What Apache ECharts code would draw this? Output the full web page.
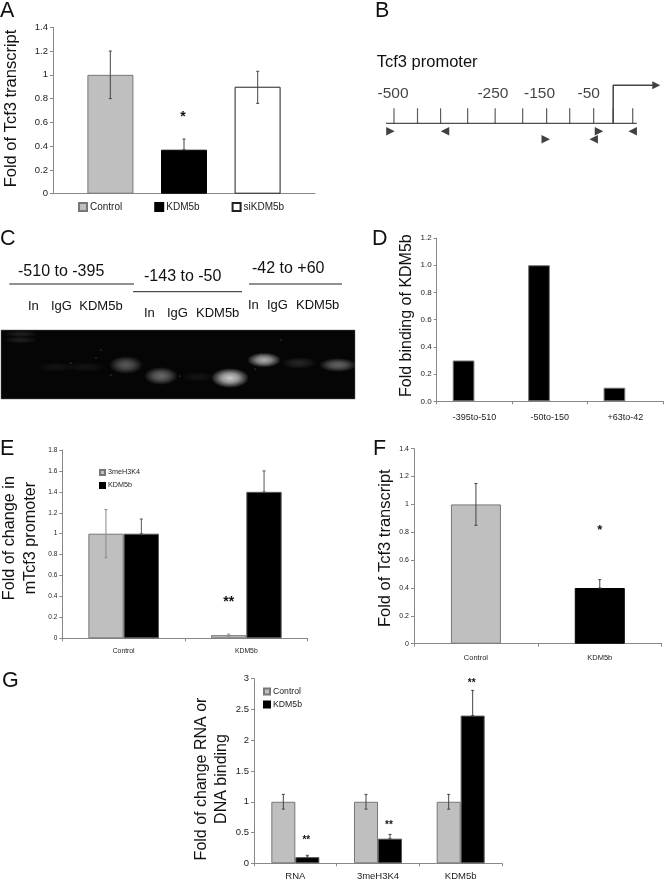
<!DOCTYPE html>
<html>
<head>
<meta charset="utf-8">
<title>Tcf3 KDM5b</title>
<style>
  html, body { margin: 0; padding: 0; background: #fff; }
  #chart { width: 664px; height: 879px; }
</style>
<script src="https://cdn.jsdelivr.net/npm/echarts@6/dist/echarts.min.js"></script>
</head>
<body>
<div id="chart"></div>
<script>
// panel A
const aNames = ['Control', 'KDM5b', 'siKDM5b']
const aValues = [1, 0.37, 0.9]
const aLow = [0.8, 0.37, 0.76]
const aHigh = [1.2, 0.46, 1.03]
// panel B, positions along the promoter in bp
const bTicks = [-500, -447, -395, -334, -272, -210, -156, -104, -50, -6, 38]
const bTickLabels = ['-500', '-250', '-150', '-50']
const bTickLabelPos = [-502, -277, -172, -61]
const bForward = [[-508, -8], [-158, -16], [-38, -8]]
const bReverse = [[-385, -8], [-50, -16], [38, -8]]
const bAxisEnds = [-518, 47]
const bTss = [[-6, 0], [-6, 38], [83, 38]]
// panel C, gel bands
const gelX = [20, 20, 55, 85, 125, 160, 197, 229, 263, 298, 337]
const gelY = [4, 10, 37, 37, 35, 46, 47, 48, 30, 33, 35]
const gelW = [34, 34, 40, 40, 34, 34, 34, 38, 34, 36, 38]
const gelH = [7, 7, 10, 10, 18, 18, 10, 20, 15, 12, 14]
const gelLevel = [0.13, 0.13, 0.07, 0.07, 0.42, 0.5, 0.07, 1, 0.85, 0.16, 0.48]
const gelSpecks = [[100, 20], [95, 28], [70, 33], [110, 45], [179, 46], [260, 25], [254, 39], [280, 10]]
// panel D
const dCats = ['-395to-510', '-50to-150', '+63to-42']
const dValues = [0.3, 1, 0.1]
// panel E
const eCats = ['Control', 'KDM5b']
const eMark = [1, 0.03]
const eMarkLow = [0.77, 0.02]
const eMarkHigh = [1.23, 0.04]
const eKdm = [1, 1.4]
const eKdmLow = [1, 1.4]
const eKdmHigh = [1.14, 1.6]
// panel F
const fCats = ['Control', 'KDM5b']
const fValues = [1, 0.4]
const fLow = [0.85, 0.4]
const fHigh = [1.15, 0.46]
// panel G
const gCats = ['RNA', '3meH3K4', 'KDM5b']
const gControl = [1, 1, 1]
const gControlLow = [0.88, 0.88, 0.88]
const gControlHigh = [1.12, 1.12, 1.12]
const gKdm = [0.1, 0.4, 2.4]
const gKdmLow = [0.1, 0.4, 2.4]
const gKdmHigh = [0.13, 0.47, 2.81]

const FONT = '"Liberation Sans", Arial, sans-serif'
const GREY = '#bfbfbf'
const BLACK = '#000'
const TEXT = '#222'

function xAxis(gridIndex, cats, size, margin, showLabel, showTick) {
  return {
    type: 'category', gridIndex: gridIndex, data: cats,
    axisLine: {lineStyle: {color: '#888', width: 1}},
    axisTick: {show: showTick, length: 3, lineStyle: {color: '#888'}},
    axisLabel: {show: showLabel, fontSize: size, margin: margin, color: TEXT, fontFamily: FONT, interval: 0}
  }
}

// shift moves the rotated name along the axis, positive is up
function yAxis(gridIndex, max, interval, size, name, nameGap, nameSize, fmt, shift) {
  return {
    type: 'value', gridIndex: gridIndex, min: 0, max: max, interval: interval,
    name: name, nameLocation: 'middle', nameGap: nameGap,
    nameTextStyle: {
      fontSize: nameSize, color: '#111', fontFamily: FONT, lineHeight: nameSize * 1.25,
      padding: shift > 0 ? [0, 0, 0, shift * 2] : [0, -shift * 2, 0, 0]
    },
    splitLine: {show: false},
    axisLine: {show: true, lineStyle: {color: '#888', width: 1}},
    axisTick: {show: true, length: 3, lineStyle: {color: '#888'}},
    axisLabel: {fontSize: size, margin: 5, color: TEXT, fontFamily: FONT, formatter: fmt}
  }
}

function bar(gridIndex, name, values, color, border, width, extra) {
  return Object.assign({
    type: 'bar', name: name, xAxisIndex: gridIndex, yAxisIndex: gridIndex, data: values,
    barWidth: width, barGap: 0,
    itemStyle: {color: color, borderColor: border, borderWidth: 1}
  }, extra || {})
}

// error bars, shift is the sideways offset from the category centre in px
function errors(gridIndex, cats, low, high, shift, color) {
  return {
    type: 'custom', xAxisIndex: gridIndex, yAxisIndex: gridIndex, z: 5, silent: true, clip: false,
    data: low.map((v, i) => [cats[i], v, high[i]]),
    encode: {x: 0, y: [1, 2]},
    renderItem: function (params, api) {
      const a = api.coord([api.value(0), api.value(1)])
      const b = api.coord([api.value(0), api.value(2)])
      const x = a[0] + shift
      const style = {stroke: color || '#444', lineWidth: 1, fill: 'none'}
      return {type: 'group', children: [
        {type: 'line', shape: {x1: x, y1: a[1], x2: x, y2: b[1]}, style: style},
        {type: 'line', shape: {x1: x - 1.5, y1: a[1], x2: x + 1.5, y2: a[1]}, style: style},
        {type: 'line', shape: {x1: x - 1.5, y1: b[1], x2: x + 1.5, y2: b[1]}, style: style}
      ]}
    }
  }
}

// significance stars
function stars(gridIndex, text, cats, vals, shift, size) {
  return {
    type: 'custom', xAxisIndex: gridIndex, yAxisIndex: gridIndex, z: 6, silent: true, clip: false,
    data: cats.map((c, i) => [c, vals[i]]),
    encode: {x: 0, y: 1},
    renderItem: function (params, api) {
      const p = api.coord([api.value(0), api.value(1)])
      return {type: 'text', style: {
        text: text, x: p[0] + shift, y: p[1], fill: '#111', align: 'center', verticalAlign: 'middle',
        font: 'bold ' + size + 'px ' + FONT
      }}
    }
  }
}

function label(text, x, y, size, color) {
  return {type: 'text', x: x, y: y, silent: true, style: {
    text: text, fill: color || '#111', font: size + 'px ' + FONT, textVerticalAlign: 'middle'
  }}
}

function rule(x1, x2, y) {
  return {type: 'line', silent: true, shape: {x1: x1, y1: y, x2: x2, y2: y}, style: {stroke: '#222', lineWidth: 1}}
}

function legend(top, left, names, size, width, gap, orient) {
  return {
    left: left, top: top, padding: 0, orient: orient, itemWidth: width, itemHeight: width, itemGap: gap,
    selectedMode: false, icon: 'rect', data: names,
    textStyle: {fontSize: size, color: TEXT, fontFamily: FONT, padding: [0, 0, 0, -2]}
  }
}

function bandColor(level) {
  return {type: 'radial', x: 0.5, y: 0.5, r: 0.5, colorStops: [
    {offset: 0, color: 'rgba(255,255,255,' + level + ')'},
    {offset: 0.45, color: 'rgba(255,255,255,' + level * 0.72 + ')'},
    {offset: 1, color: 'rgba(255,255,255,0)'}
  ]}
}

function grid(left, top, width, height, extra) {
  return Object.assign({left: left, top: top, width: width, height: height, outerBoundsMode: 'none'}, extra || {})
}

const fixed1 = v => v.toFixed(1)
const plain = v => String(v)

const option = {
  animation: false,
  backgroundColor: '#fff',
  grid: [
    grid(53, 27.3, 262, 166.4),
    grid(436.7, 238, 226.3, 163.3),
    grid(62.3, 450, 245.4, 188.3),
    grid(414, 448.7, 247.7, 195),
    grid(254, 678.7, 248, 184.6),
    grid(386, 73.3, 276, 70),
    grid(1, 330, 354, 69, {show: true, backgroundColor: '#050505', borderColor: '#666', borderWidth: 0.5})
  ],
  xAxis: [
    xAxis(0, [''], 9, 5, false, false),
    xAxis(1, dCats, 9, 12, true, true),
    xAxis(2, eCats, 6.8, 9, true, true),
    xAxis(3, fCats, 7.5, 10, true, true),
    xAxis(4, gCats, 9.5, 8, true, true),
    {type: 'value', gridIndex: 5, min: -518, max: 104, show: false},
    {type: 'value', gridIndex: 6, min: 0, max: 354, show: false}
  ],
  yAxis: [
    yAxis(0, 1.4, 0.2, 9.5, 'Fold of Tcf3 transcript', 31, 16.5, plain, 2),
    yAxis(1, 1.2, 0.2, 8, 'Fold binding of KDM5b', 20, 16, fixed1, 4),
    yAxis(2, 1.8, 0.2, 6.5, 'Fold of change in\nmTcf3 promoter', 22, 16.2, plain, 6),
    yAxis(3, 1.4, 0.2, 7, 'Fold of Tcf3 transcript', 12, 16.5, plain, -2),
    yAxis(4, 3, 0.5, 9.5, 'Fold of change RNA or\nDNA binding', 21, 16, plain, -8),
    {type: 'value', gridIndex: 5, min: -20, max: 50, show: false},
    {type: 'value', gridIndex: 6, min: 0, max: 69, inverse: true, show: false}
  ],
  legend: [
    legend(202, 78, aNames, 10, 8, 32, 'horizontal'),
    legend(469, 99, ['3meH3K4', 'KDM5b'], 7.2, 5, 6, 'vertical'),
    legend(687, 263, ['Control', 'KDM5b'], 8.7, 6, 4, 'vertical')
  ],
  series: [
    // A
    bar(0, 'Control', [aValues[0]], GREY, '#777', 46, {barGap: '60%'}),
    bar(0, 'KDM5b', [aValues[1]], BLACK, BLACK, 46, {barGap: '60%'}),
    bar(0, 'siKDM5b', [aValues[2]], '#fff', '#222', 46, {barGap: '60%'}),
    errors(0, [''], [aLow[0]], [aHigh[0]], -73.7),
    errors(0, [''], [aLow[1]], [aHigh[1]], 0),
    errors(0, [''], [aLow[2]], [aHigh[2]], 73.7),
    stars(0, '*', [''], [0.64], -1, 14),
    // D, the second series is empty in the source chart so the bars sit left of centre
    bar(1, 'Binding', dValues, BLACK, '#777', 21.7),
    bar(1, 'Empty', [null, null, null], BLACK, BLACK, 21.7),
    // E
    bar(2, '3meH3K4', eMark, GREY, '#777', 35.3),
    bar(2, 'KDM5b', eKdm, BLACK, '#555', 35.3),
    errors(2, eCats, eMarkLow, eMarkHigh, -17.7, '#888'),
    errors(2, eCats, eKdmLow, eKdmHigh, 17.7, '#555'),
    stars(2, '**', ['KDM5b'], [0.35], -17.7, 14),
    // F
    bar(3, 'Control', [fValues[0], null], GREY, '#777', 50, {barGap: '-100%'}),
    bar(3, 'KDM5b', [null, fValues[1]], BLACK, BLACK, 50, {barGap: '-100%'}),
    errors(3, fCats, fLow, fHigh, 0),
    stars(3, '*', ['KDM5b'], [0.81], 0, 13),
    // G
    bar(4, 'Control', gControl, GREY, '#777', 24),
    bar(4, 'KDM5b', gKdm, BLACK, '#555', 24),
    errors(4, gCats, gControlLow, gControlHigh, -12),
    errors(4, gCats, gKdmLow, gKdmHigh, 12),
    stars(4, '**', ['RNA', '3meH3K4', 'KDM5b'], [0.37, 0.62, 2.92], 11, 10),
    // B, promoter map
    {
      type: 'line', xAxisIndex: 5, yAxisIndex: 5, symbol: 'none', silent: true,
      data: bAxisEnds.map(x => [x, 0]), lineStyle: {color: '#222', width: 1}
    },
    {
      type: 'scatter', xAxisIndex: 5, yAxisIndex: 5, symbol: 'rect', symbolSize: [1.2, 15], silent: true,
      data: bTicks.map(x => [x, 7.5]), itemStyle: {color: '#333'}
    },
    {
      type: 'scatter', xAxisIndex: 5, yAxisIndex: 5, symbol: 'triangle', symbolSize: [8.5, 8.5], symbolRotate: -90, silent: true,
      data: bForward, itemStyle: {color: '#111'}
    },
    {
      type: 'scatter', xAxisIndex: 5, yAxisIndex: 5, symbol: 'triangle', symbolSize: [8.5, 8.5], symbolRotate: 90, silent: true,
      data: bReverse, itemStyle: {color: '#111'}
    },
    {
      type: 'line', xAxisIndex: 5, yAxisIndex: 5, symbol: 'none', silent: true, clip: false,
      data: bTss, lineStyle: {color: '#444', width: 1.5}
    },
    {
      type: 'scatter', xAxisIndex: 5, yAxisIndex: 5, symbol: 'triangle', symbolSize: [8, 8], symbolRotate: -90, silent: true,
      data: [[bTss[2][0] + 8, bTss[2][1]]], itemStyle: {color: '#111'}
    },
    {
      type: 'scatter', xAxisIndex: 5, yAxisIndex: 5, symbolSize: 0, silent: true,
      data: bTickLabelPos.map((x, i) => ({value: [x, 30], name: bTickLabels[i]})),
      label: {show: true, position: 'inside', formatter: '{b}', fontSize: 15.5, color: '#111', fontFamily: FONT}
    },
    // C, gel
    {
      type: 'scatter', xAxisIndex: 6, yAxisIndex: 6, silent: true, symbol: 'circle',
      data: gelX.map((x, i) => ({
        value: [x, gelY[i]],
        symbolSize: [gelW[i], gelH[i]],
        itemStyle: {color: bandColor(gelLevel[i])}
      }))
    },
    {
      type: 'scatter', xAxisIndex: 6, yAxisIndex: 6, silent: true, symbolSize: 1,
      data: gelSpecks, itemStyle: {color: '#aaa'}
    }
  ],
  graphic: [
    label('A', 0, 11, 21.5), label('B', 375, 11, 21.5), label('C', 0, 239, 21.5),
    label('D', 372, 239, 21.5), label('E', 0, 449, 21.5), label('F', 373, 449, 21.5), label('G', 2, 681, 21.5),
    label('Tcf3 promoter', 376.7, 62, 16.5),
    label('-510 to -395', 18, 271.7, 16), rule(9.3, 134, 284),
    label('-143 to -50', 144, 277, 16), rule(133, 242, 291.7),
    label('-42 to +60', 252, 269, 16), rule(249, 342, 284),
    label('In', 28, 306, 13), label('IgG', 51, 306, 13), label('KDM5b', 79.3, 306, 13),
    label('In', 144, 313, 13), label('IgG', 167, 313, 13), label('KDM5b', 196, 313, 13),
    label('In', 248, 305, 13), label('IgG', 267, 305, 13), label('KDM5b', 296, 305, 13)
  ]
}

const chart = echarts.init(document.getElementById('chart'))
chart.setOption(option)
</script>
</body>
</html>
